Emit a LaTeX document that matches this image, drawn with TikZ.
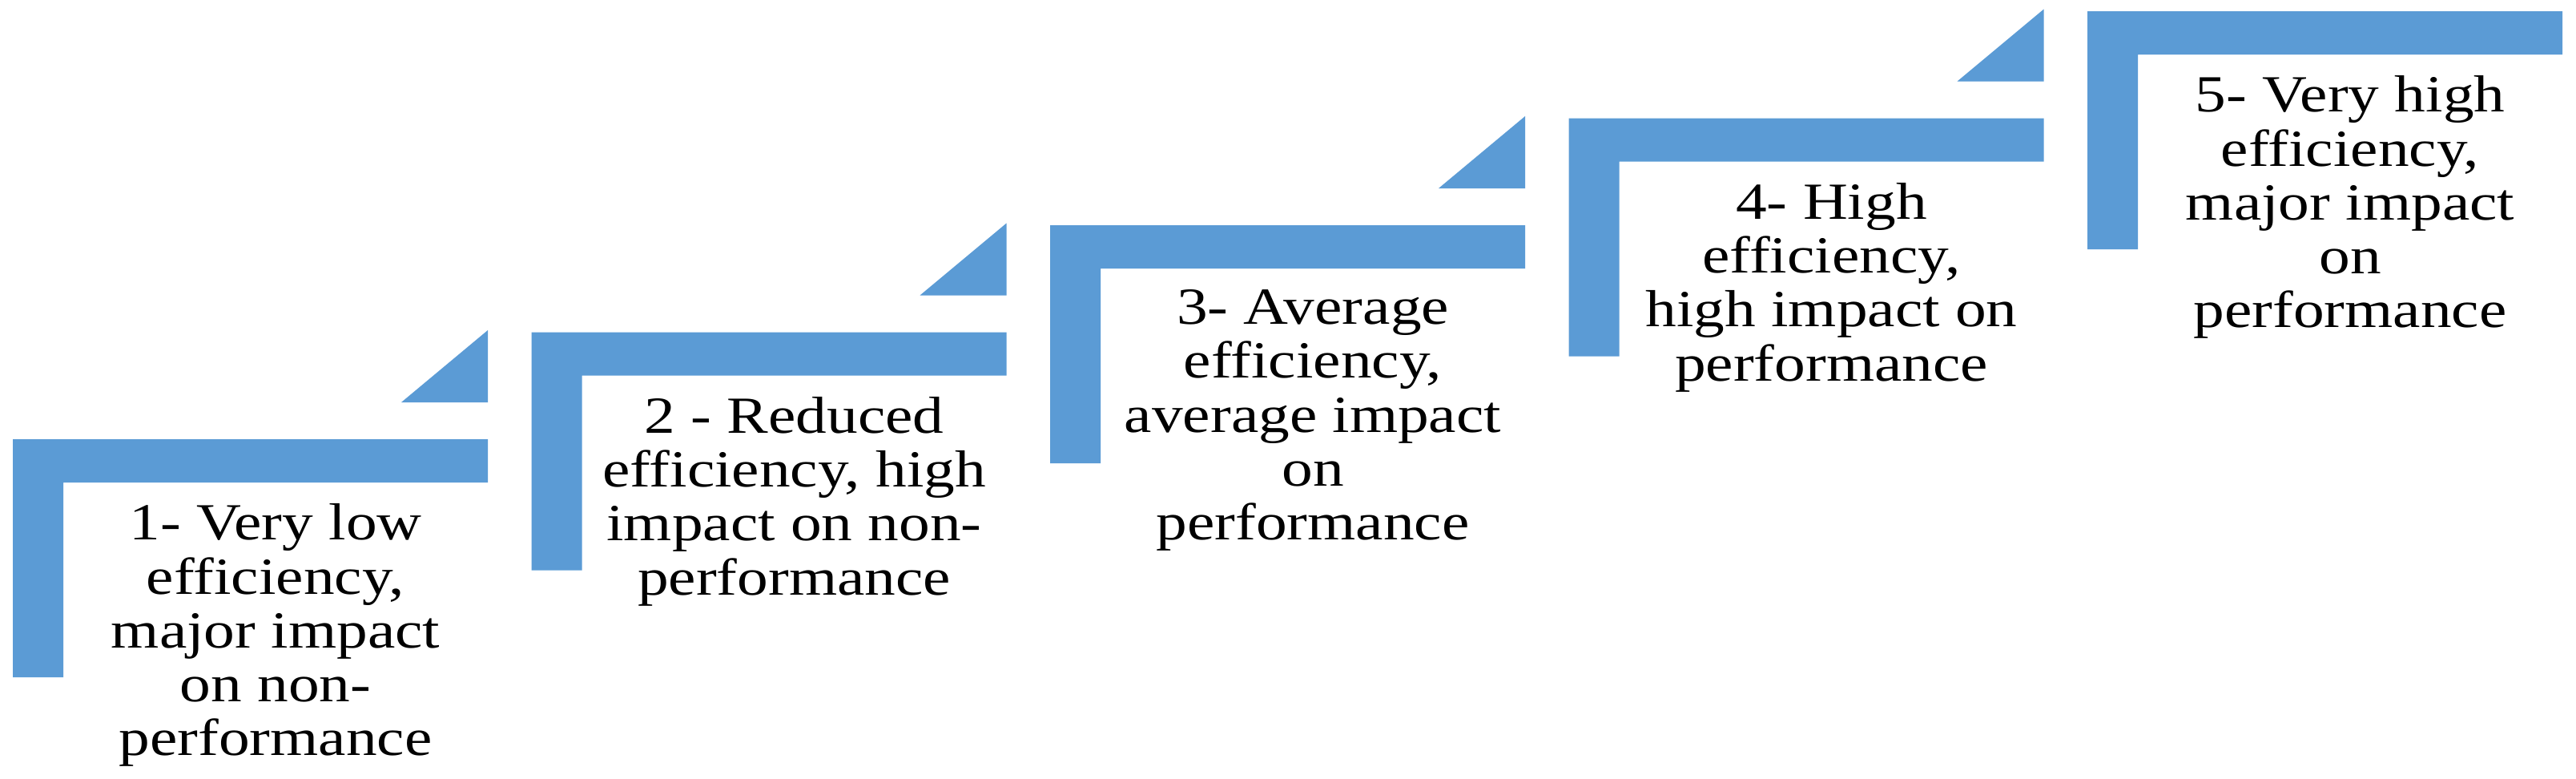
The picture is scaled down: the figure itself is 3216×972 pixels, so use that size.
\documentclass[tikz,border=0pt]{standalone}
\usepackage{fontspec}
\setmainfont{Liberation Serif}
\definecolor{stepblue}{HTML}{5B9BD5}
\begin{document}
\begin{tikzpicture}[x=1pt,y=-1pt,
  stepshape/.style={fill=stepblue, draw=none},
  steptext/.style={anchor=north, align=center, inner sep=0pt, xscale=1.19,
    font=\fontsize{65}{67.25}\selectfont, text=black}]
\useasboundingbox (0,0) rectangle (3216,972);
\foreach \i in {0,...,4}{
  \pgfmathsetmacro{\L}{16+647.5*\i}
  \pgfmathsetmacro{\T}{548-133.5*\i}
  \fill[stepshape] (\L,\T) -- ++(593,0) -- ++(0,54) -- ++(-530,0) -- ++(0,243) -- ++(-63,0) -- cycle;
}
\foreach \i in {0,...,3}{
  \pgfmathsetmacro{\L}{16+647.5*\i}
  \pgfmathsetmacro{\T}{548-133.5*\i}
  \fill[stepshape] (\L+593,\T-136) -- (\L+593,\T-46) -- (\L+485,\T-46) -- cycle;
}
\node[steptext] (t1) at (344,628.5) {1- Very low\\efficiency,\\major impact\\on non-\\performance};
\node[steptext] (t2) at (991.5,495) {2 - Reduced\\efficiency, high\\impact on non-\\performance};
\node[steptext] (t3) at (1639,361.5) {3- Average\\efficiency,\\average impact\\on\\performance};
\node[steptext] (t4) at (2286.5,228) {4- High\\efficiency,\\high impact on\\performance};
\node[steptext] (t5) at (2934,94.5) {5- Very high\\efficiency,\\major impact\\on\\performance};
\end{tikzpicture}
\end{document}
